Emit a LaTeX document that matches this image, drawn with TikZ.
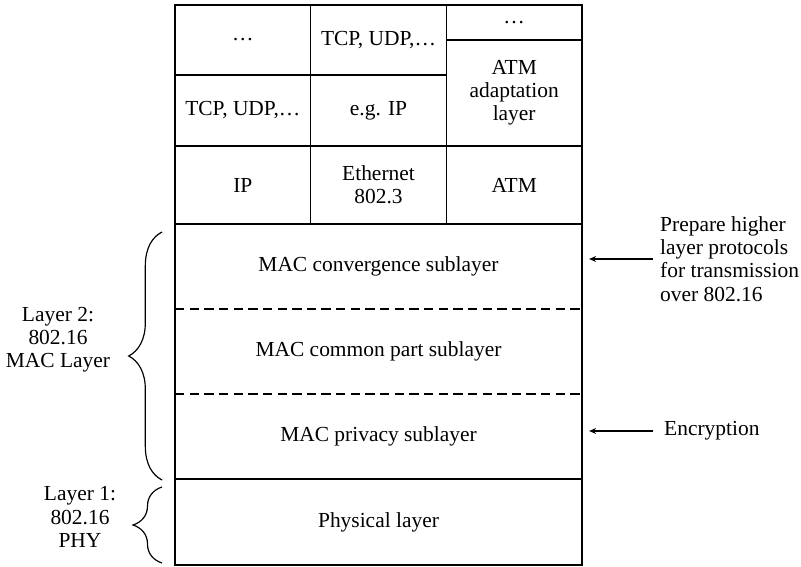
\documentclass[tikz,border=0pt]{standalone}
\usepackage{fontspec}
\setmainfont{Liberation Serif}
\usetikzlibrary{arrows.meta, positioning, decorations.pathreplacing}

\begin{document}
\begin{tikzpicture}[
  x=0.03cm, y=-0.03cm,
  font=\fontsize{18.3}{19.8}\selectfont,
  cell/.style={rectangle, draw, line width=1.1pt, outer sep=0pt, inner sep=0pt,
               minimum width=4.07cm, align=center},
  sub/.style={rectangle, outer sep=0pt, inner sep=0pt,
              minimum width=12.21cm, minimum height=2.55cm},
  subline/.style={line width=1.1pt, dash pattern=on 8pt off 4.5pt},
  note/.style={align=left, inner sep=0pt},
  layer/.style={align=center, inner sep=0pt},
  brace/.style={decorate, decoration={brace, amplitude=#1}, line width=1pt},
  arrow/.style={-{Stealth[length=6pt, width=5pt]}, line width=1.1pt, shorten >=6pt},
]
  \useasboundingbox (0,0) rectangle (801,567);

  % higher layer protocols
  \node[cell, minimum height=2.1cm, anchor=north west] (dots) at (175,5) {…};
  \node[cell, minimum height=2.1cm, right=0pt of dots] (tcpa) {TCP, UDP,…};
  \node[cell, minimum height=1.05cm, anchor=north west] (dotsr) at (tcpa.north east) {…};
  \node[cell, minimum height=3.18cm, below=0pt of dotsr] (aal) {ATM\\adaptation\\layer};
  \node[cell, minimum height=2.13cm, below=0pt of dots] (tcpb) {TCP, UDP,…};
  \node[cell, minimum height=2.13cm, below=0pt of tcpa] (egip) {e.g. IP};
  \node[cell, minimum height=2.34cm, below=0pt of tcpb] (ip) {IP};
  \node[cell, minimum height=2.34cm, below=0pt of egip] (eth) {Ethernet\\802.3};
  \node[cell, minimum height=2.34cm, below=0pt of aal] (atm) {ATM};

  % 802.16 MAC
  \node[sub, anchor=north west] (conv) at (ip.south west) {MAC convergence sublayer};
  \node[sub, below=0pt of conv] (cps) {MAC common part sublayer};
  \node[sub, below=0pt of cps] (priv) {MAC privacy sublayer};
  \draw[line width=1.1pt] (conv.north west) rectangle (priv.south east);
  \draw[subline] (conv.south west) -- (conv.south east);
  \draw[subline] (cps.south west) -- (cps.south east);

  % 802.16 PHY
  \node[cell, minimum width=12.21cm, minimum height=2.58cm, below=0pt of priv] (phy) {Physical layer};

  % braces
  \coordinate (b2top) at (162,232);
  \coordinate (b2bot) at (162,480);
  \coordinate (b1top) at (162,487);
  \coordinate (b1bot) at (162,563);
  \draw[brace=1cm] (b2bot) -- (b2top);
  \draw[brace=0.87cm] (b1bot) -- (b1top);
  \node[layer] (l2) at (58,340) {Layer 2:\\802.16\\MAC Layer};
  \node[layer] (l1) at (80,517) {Layer 1:\\802.16\\PHY};

  % notes
  \node[note, anchor=west] (prep) at (660,259) {Prepare higher\\layer protocols\\for transmission\\over 802.16};
  \node[note, anchor=west] (enc) at (664,431) {Encryption};
  \draw[arrow, shorten <=6pt] (prep.west) -- (prep.west -| conv.east);
  \draw[arrow, shorten <=9pt] (enc.west) -- (enc.west -| priv.east);
\end{tikzpicture}
\end{document}
